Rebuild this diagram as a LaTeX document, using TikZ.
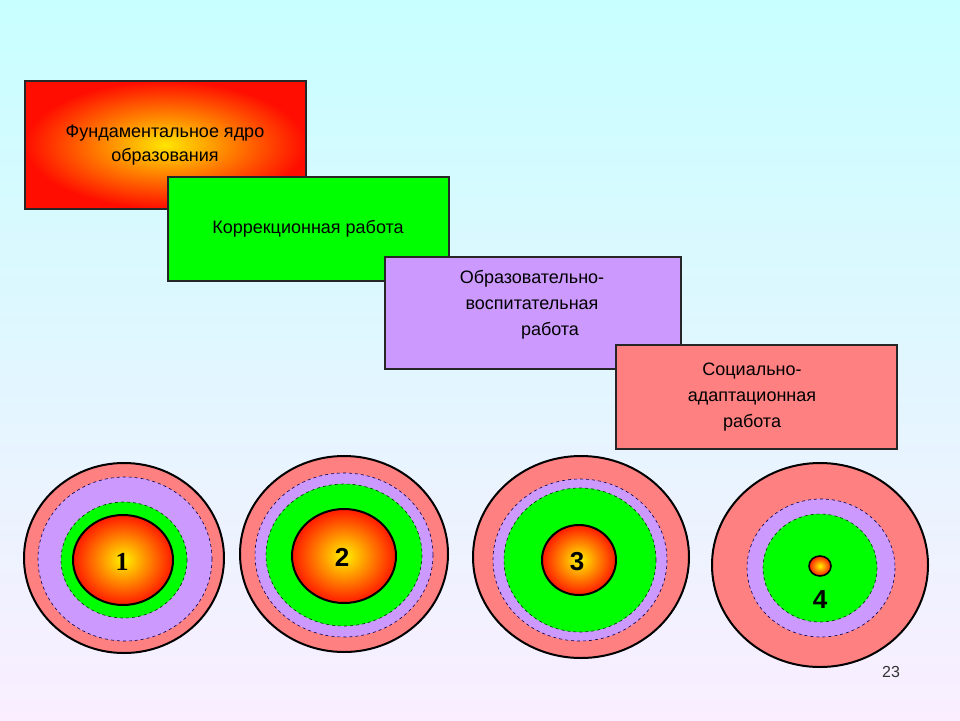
\documentclass[tikz,border=0pt]{standalone}
\usepackage{fontspec}
\setmainfont{Liberation Sans}
\begin{document}
\begin{tikzpicture}[x=1pt,y=-1pt,
  box/.style={draw=black!85, line width=1.6pt, anchor=north west, inner sep=0pt, align=center, font=\fontsize{18}{24}\selectfont},
  outer/.style={fill=pinkc, draw=black, line width=2pt},
  viol/.style={fill=violc, draw=black!70!blue, dashed, line width=0.6pt},
  grn/.style={fill=grnc, draw=black!80!green, dashed, line width=0.6pt},
  core/.style={inner color=yellow!90!orange, outer color=red!80!orange, draw=black, line width=2pt},
  num/.style={font=\fontsize{26}{28}\selectfont\bfseries}]
\definecolor{pinkc}{RGB}{255,128,128}
\definecolor{violc}{RGB}{204,153,255}
\definecolor{grnc}{RGB}{0,255,0}
\definecolor{bgtop}{RGB}{200,255,255}
\definecolor{bgbot}{RGB}{250,238,255}
\shade[top color=bgtop, bottom color=bgbot] (0,0) rectangle (960,720);
\useasboundingbox (0,0) rectangle (960,720);
% boxes
\node[box, minimum width=281pt, minimum height=128pt, inner color=yellow!80!orange, outer color=red!90!orange] (b1) at (24,80) {};
\node[font=\fontsize{18}{24}\selectfont, align=center] (t1) at (165,145) {Фундаментальное ядро\\образования};
\node[box, fill=grnc, minimum width=281pt, minimum height=104pt] (b2) at (167,176) {};
\node[font=\fontsize{18}{24}\selectfont] (t2) at (308,229) {Коррекционная работа};
\node[box, fill=violc, minimum width=296pt, minimum height=112pt] (b3) at (384,256) {};
\node[font=\fontsize{18}{26}\selectfont, align=center] (t3) at (532,305) {Образовательно-\\воспитательная\\\hspace*{2em}работа};
\node[box, fill=pinkc, minimum width=281pt, minimum height=104pt] (b4) at (615,344) {};
\node[font=\fontsize{18}{26}\selectfont, align=center] (t4) at (752,397) {Социально-\\адаптационная\\работа};
% circle 1
\draw[outer] (124,558) ellipse [x radius=100, y radius=95];
\draw[viol] (125,559) ellipse [x radius=87, y radius=82];
\draw[grn] (124,560) ellipse [x radius=63, y radius=58];
\draw[core] (123,560) ellipse [x radius=50, y radius=45];
\node[font=\fontsize{26}{28}\selectfont\bfseries\rmfamily\fontspec{Liberation Serif}] (n1) at (122,562) {1};
% circle 2
\draw[outer] (344,554) ellipse [x radius=104, y radius=98];
\draw[viol] (344,555) ellipse [x radius=89, y radius=82];
\draw[grn] (344,555) ellipse [x radius=78, y radius=71];
\draw[core] (344,556) ellipse [x radius=52, y radius=47];
\node[num] (n2) at (342,557) {2};
% circle 3
\draw[outer] (581,557) ellipse [x radius=108, y radius=101];
\draw[viol] (580,560) ellipse [x radius=87, y radius=81];
\draw[grn] (580,560) ellipse [x radius=76, y radius=72];
\draw[core] (579,560) ellipse [x radius=37, y radius=35];
\node[num] (n3) at (577,562) {3};
% circle 4
\draw[outer] (820,565) ellipse [x radius=108, y radius=102];
\draw[viol] (821,568) ellipse [x radius=74, y radius=69];
\draw[grn] (820,568) ellipse [x radius=57, y radius=54];
\draw[inner color=yellow!90!orange, outer color=red!80!orange, draw=black, line width=1.6pt] (820,566) ellipse [x radius=11, y radius=10];
\node[num] (n4) at (820,600) {4};
\node[font=\fontsize{16}{18}\selectfont, text=black!80] (pg) at (891,672) {23};
\end{tikzpicture}
\end{document}
